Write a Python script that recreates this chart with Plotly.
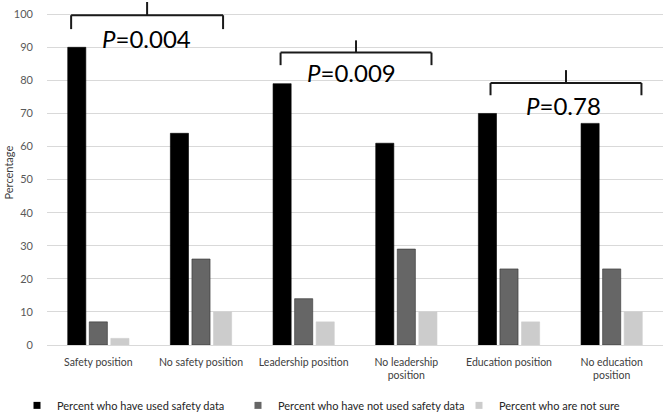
import plotly.graph_objects as go

categories = ["Safety position", "No safety position", "Leadership position",
              "No leadership<br>position", "Education position", "No education<br>position"]
used = [90, 64, 79, 61, 70, 67]
not_used = [7, 26, 14, 29, 23, 23]
not_sure = [2, 10, 7, 10, 7, 10]
series_names = ["Percent who have used safety data",
                "Percent who have not used safety data",
                "Percent who are not sure"]
series_colors = ["#000000", "#666666", "#cccccc"]
p_labels = ["<i>P</i>=0.004", "<i>P</i>=0.009", "<i>P</i>=0.78"]

FONT = "Lato"
fig = go.Figure()
for vals, name, col, lc in zip([used, not_used, not_sure], series_names, series_colors,
                               ["#000000", "#333333", "#cccccc"]):
    fig.add_bar(x=categories, y=vals, name=name, showlegend=False, legendgroup=name,
                marker=dict(color=col, line=dict(color=lc, width=0.6)))
# legend entries with small square keys
for name, col in zip(series_names, series_colors):
    fig.add_scatter(x=[None], y=[None], mode="markers", name=name, legendgroup=name,
                    marker=dict(symbol="square", size=7, color=col))

# brackets: (left, right, horizontal y, leg bottom y, tick top y)
brackets = [(-0.265, 1.215, 99.7, 95.5, 103.7),
            (1.775, 3.245, 88.4, 84.6, 92.1),
            (3.82, 5.29, 79.2, 75.5, 83.1)]
text_pos = [(0.47, 92.7), (2.47, 82.5), (4.53, 72.5)]
line = dict(color="#1a1a1a", width=2)
for (x0, x1, yh, yb, yt), (tx, ty), lab in zip(brackets, text_pos, p_labels):
    xm = (x0 + x1) / 2
    fig.add_shape(type="line", x0=x0, x1=x1, y0=yh, y1=yh, xref="x", yref="y", line=line)
    fig.add_shape(type="line", x0=x0, x1=x0, y0=yb, y1=yh, xref="x", yref="y", line=line)
    fig.add_shape(type="line", x0=x1, x1=x1, y0=yb, y1=yh, xref="x", yref="y", line=line)
    fig.add_shape(type="line", x0=xm, x1=xm, y0=yh, y1=yt, xref="x", yref="y", line=line)
    fig.add_annotation(x=tx, y=ty, xref="x", yref="y", text=lab, showarrow=False,
                       font=dict(family=FONT, size=24, color="#000000"))

fig.add_annotation(x=-39 / 616, y=0.5, xref="paper", yref="paper", text="Percentage",
                   textangle=-90, showarrow=False, xanchor="center", yanchor="middle",
                   font=dict(family=FONT, size=11, color="#404040"))

fig.update_layout(
    width=666, height=412,
    margin=dict(l=47, r=3, t=0, b=67, autoexpand=False),
    paper_bgcolor="white", plot_bgcolor="white",
    barmode="group", bargap=0.37, bargroupgap=0.16,
    font=dict(family=FONT, size=11, color="#404040"),
    showlegend=True,
    legend=dict(orientation="h", x=(17 - 47) / 616, xanchor="left", y=-0.175, yanchor="middle",
                font=dict(family=FONT, size=11, color="#262626"),
                itemwidth=30, traceorder="normal", entrywidth=176, entrywidthmode="pixels"),
)
fig.update_yaxes(range=[0, 104.3], tickvals=[0, 10, 20, 30, 40, 50, 60, 70, 80, 90, 100],
                 showgrid=True, gridcolor="#d9d9d9", gridwidth=1, zeroline=False,
                 showline=False, ticks="", ticklabelstandoff=13, automargin=False,
                 tickfont=dict(family=FONT, size=11, color="#595959"))
fig.update_xaxes(showgrid=False, showline=True, linecolor="#d9d9d9", linewidth=1,
                 ticks="", tickangle=0, automargin=False, ticklabelstandoff=7,
                 tickfont=dict(family=FONT, size=10.5, color="#404040"))

fig.write_html("out.html", config={"displayModeBar": False},
               post_script="document.body.style.margin='0';document.body.style.overflow='hidden';")
